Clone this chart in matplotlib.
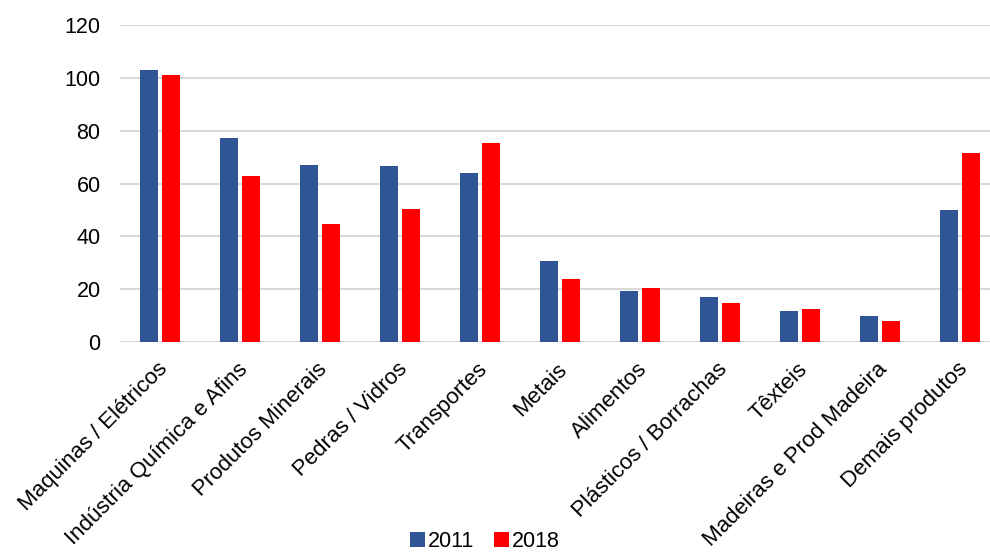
import matplotlib.pyplot as plt
import numpy as np

plt.rcParams['font.family'] = ['Liberation Sans', 'DejaVu Sans']

categories = ['Maquinas / Elétricos', 'Indústria Química e Afins', 'Produtos Minerais',
              'Pedras / Vidros', 'Transportes', 'Metais', 'Alimentos',
              'Plásticos / Borrachas', 'Têxteis', 'Madeiras e Prod Madeira',
              'Demais produtos']
v2011 = [102.8, 77.1, 67.1, 66.8, 63.8, 30.7, 19.3, 17.0, 11.8, 9.9, 49.8]
v2018 = [100.9, 62.7, 44.6, 50.5, 75.3, 24.0, 20.4, 14.8, 12.5, 8.1, 71.7]

fig = plt.figure(figsize=(9.9, 5.52), dpi=100)
ax = fig.add_axes([120/990, 210/552, 870/990, 317/552])

x = np.arange(len(categories))
w = 0.22
gap = 0.03
ax.bar(x - w/2 - gap, v2011, w, color='#2F5597', label='2011', zorder=3)
ax.bar(x + w/2 + gap, v2018, w, color='#FF0000', label='2018', zorder=3)

ax.set_ylim(0, 120)
ax.set_yticks(range(0, 121, 20))
ax.set_xlim(-0.5, 10.375)
ax.yaxis.grid(True, color='#D9D9D9', linewidth=1.5, zorder=0)
for s in ax.spines.values():
    s.set_visible(False)
ax.tick_params(axis='both', length=0, colors='#000000')
ax.tick_params(axis='y', pad=14, labelsize=15.5)
ax.set_xticks(x - 0.04)
ax.set_xticklabels(categories, rotation=45, ha='right', rotation_mode='anchor', fontsize=16)
ax.tick_params(axis='x', pad=12)

fig.legend(loc='lower center', bbox_to_anchor=(0.49, -0.035), ncol=2, frameon=False,
           fontsize=15.5, handlelength=0.7, handleheight=0.7, handletextpad=0.15,
           columnspacing=0.9)

fig.savefig('out.png', dpi=100)
